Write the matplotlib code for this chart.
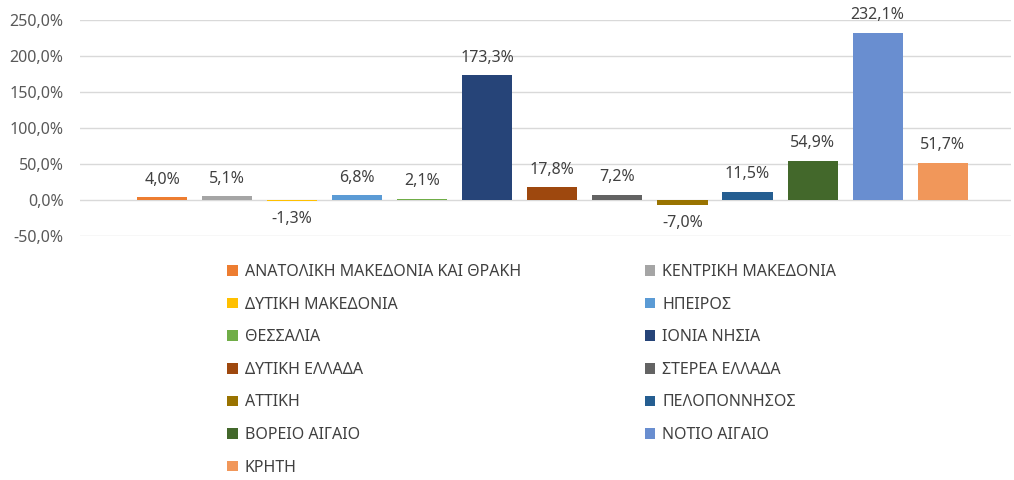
import matplotlib
matplotlib.use("Agg")
import matplotlib.pyplot as plt
import numpy as np

plt.rcParams['font.family'] = ['Noto Sans', 'DejaVu Sans']

# regions and % change
regions = ["ΑΝΑΤΟΛΙΚΗ ΜΑΚΕΔΟΝΙΑ ΚΑΙ ΘΡΑΚΗ", "ΚΕΝΤΡΙΚΗ ΜΑΚΕΔΟΝΙΑ", "ΔΥΤΙΚΗ ΜΑΚΕΔΟΝΙΑ",
           "ΗΠΕΙΡΟΣ", "ΘΕΣΣΑΛΙΑ", "ΙΟΝΙΑ ΝΗΣΙΑ", "ΔΥΤΙΚΗ ΕΛΛΑΔΑ", "ΣΤΕΡΕΑ ΕΛΛΑΔΑ",
           "ΑΤΤΙΚΗ", "ΠΕΛΟΠΟΝΝΗΣΟΣ", "ΒΟΡΕΙΟ ΑΙΓΑΙΟ", "ΝΟΤΙΟ ΑΙΓΑΙΟ", "ΚΡΗΤΗ"]
values = [4.0, 5.1, -1.3, 6.8, 2.1, 173.3, 17.8, 7.2, -7.0, 11.5, 54.9, 232.1, 51.7]
colors = ["#ED7D31", "#A5A5A5", "#FFC000", "#5B9BD5", "#70AD47", "#264478", "#9E480E",
          "#636363", "#997300", "#255E91", "#43682B", "#698ED0", "#F1975A"]
yticks = [-50, 0, 50, 100, 150, 200, 250]

def pct(v):
    return f"{v:.1f}%".replace(".", ",")

fig = plt.figure(figsize=(10.14, 4.8), dpi=100)
ax = fig.add_axes([0.079, 0.508, 0.918, 0.45])

x = np.arange(len(values))
bars = []
for i, (v, c, r) in enumerate(zip(values, colors, regions)):
    b = ax.bar(x[i], v, width=0.77, color=c, label=r, zorder=3)
    bars.append(b)
    off = 7 if v >= 0 else -7
    ax.annotate(pct(v), (x[i], v), xytext=(0, off), textcoords="offset points",
                ha="center", va="bottom" if v >= 0 else "top",
                fontsize=11.5, color="#404040")

ax.set_xlim(-1.26, 13.05)
ax.set_ylim(-50, 250)
ax.set_yticks(yticks)
ax.set_yticklabels([pct(t) for t in yticks], fontsize=11.5, color="#595959")
ax.set_xticks([])
ax.grid(axis="y", color="#D9D9D9", linewidth=1, zorder=0)
ax.tick_params(axis="y", length=0, pad=12)
for s in ax.spines.values():
    s.set_visible(False)

# legend row-major order in 2 columns
order = list(range(0, 13, 2)) + list(range(1, 13, 2))
handles = [bars[i] for i in order]
labels = [regions[i] for i in order]
fig.legend(handles, labels, ncol=2, loc="upper left", bbox_to_anchor=(0.224, 0.45),
           frameon=False, fontsize=11.5, handlelength=0.65, handleheight=0.65,
           handletextpad=0.45, columnspacing=7.75, labelspacing=1.04,
           labelcolor="#404040", borderpad=0, borderaxespad=0)

fig.savefig("out.png", dpi=100)
